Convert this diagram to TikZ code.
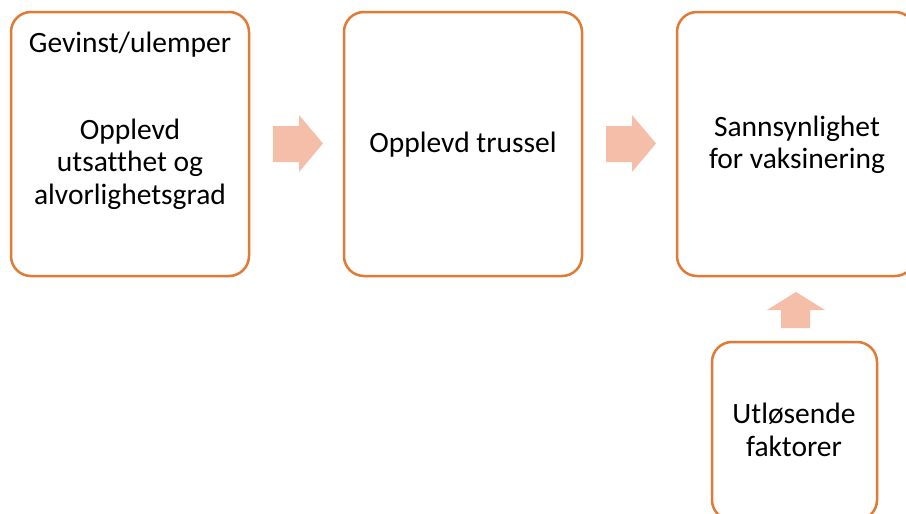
\documentclass[tikz,border=0pt]{standalone}
\usepackage{fontspec}
\setmainfont[Ligatures=NoCommon]{Carlito}
\definecolor{boxline}{HTML}{E07A35}
\definecolor{arrowfill}{HTML}{F5BEA8}
\begin{document}
\begin{tikzpicture}[x=1pt,y=-1pt,
  rbox/.style={draw=boxline, line width=2.5pt, rounded corners=20pt, fill=white, inner sep=0pt},
  txt/.style={font=\fontsize{29.5}{32.5}\selectfont, align=center, text=black, inner sep=0pt}]
\useasboundingbox (0,0) rectangle (906,514);
\clip (0,0) rectangle (906,514);
\fill[white] (0,0) rectangle (906,514);
% boxes
\node[rbox, minimum width=238pt, minimum height=264pt] (b1) at (130,144) {};
\node[rbox, minimum width=238pt, minimum height=264pt] (b2) at (463,144) {};
\node[rbox, minimum width=238pt, minimum height=264pt] (b3) at (796,144) {};
\node[rbox, minimum width=165pt, minimum height=178pt] (b4) at (794.5,431) {};
% texts
\node[txt] (t1a) at (130,45) {Gevinst/ulemper};
\node[txt] (t1b) at (130,164) {Opplevd\\utsatthet og\\alvorlighetsgrad};
\node[txt] (t2) at (463,145) {Opplevd trussel};
\node[txt] (t3) at (797,145) {Sannsynlighet\\for vaksinering};
\node[txt] (t4) at (794,430) {Utløsende\\faktorer};
% block arrows
\fill[arrowfill] (273,126) -- (299,126) -- (299,115) -- (323,143.5) -- (299,172) -- (299,162) -- (273,162) -- cycle;
\fill[arrowfill] (606,126) -- (632,126) -- (632,115) -- (656,143.5) -- (632,172) -- (632,162) -- (606,162) -- cycle;
\fill[arrowfill] (781,328) -- (781,310) -- (767,310) -- (796,292) -- (825,310) -- (810,310) -- (810,328) -- cycle;
\end{tikzpicture}
\end{document}
